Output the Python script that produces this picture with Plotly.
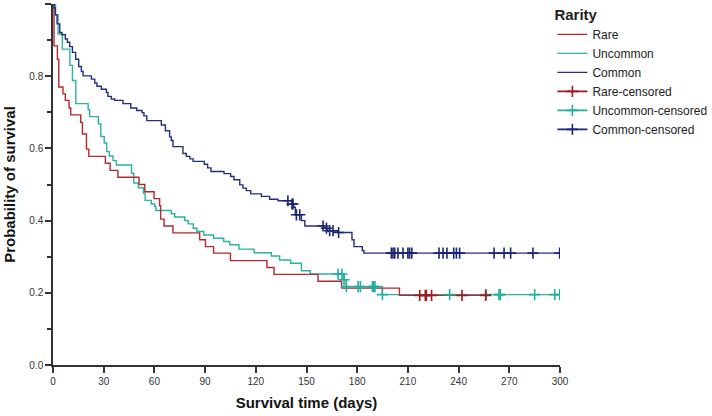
import plotly.graph_objects as go

# ---------------- data ----------------
rare_t = [0, 0.6, 2.6, 3.4, 5.9, 7.3, 9.5, 10.5, 16.4, 17.4, 19.8, 21.2, 31.0, 33.8, 38.4,
          50.9, 54.3, 59.8, 63.1, 63.7, 65.7, 71.0, 86.8, 90.2, 95.0, 105.0, 126.6, 130.8,
          156.8, 170.8, 205.0, 256.0]
rare_s = [1.0, 0.884, 0.847, 0.770, 0.751, 0.733, 0.712, 0.693, 0.672, 0.640, 0.598, 0.578, 0.559, 0.539, 0.520,
          0.500, 0.480, 0.461, 0.441, 0.404, 0.385, 0.366, 0.347, 0.328, 0.310, 0.289, 0.270, 0.251,
          0.232, 0.213, 0.193, 0.193]
rare_cens = [217.0, 220.3, 220.9, 224.0, 242.0, 256.0]

unc_t = [0, 1.5, 3.0, 5.5, 10.0, 11.5, 13.5, 20.8, 21.7, 26.8, 28.3, 30.3, 31.8, 33.3, 35.5, 37.5,
         46.5, 47.8, 50.5, 53.5, 54.5, 58.2, 60.2, 60.8, 70.0, 72.0, 78.0, 80.0, 83.0, 85.2, 89.2,
         95.0, 101.0, 104.6, 110.0, 119.0, 129.2, 134.1, 140.6, 147.0, 152.3, 172.2, 173.6, 194.9, 300.0]
unc_s = [1.0, 0.970, 0.917, 0.875, 0.830, 0.788, 0.724, 0.707, 0.688, 0.668, 0.633, 0.615, 0.591, 0.579, 0.566, 0.554,
         0.531, 0.504, 0.491, 0.476, 0.456, 0.446, 0.439, 0.428, 0.419, 0.410, 0.400, 0.391, 0.379, 0.370, 0.360,
         0.351, 0.342, 0.333, 0.321, 0.311, 0.302, 0.291, 0.282, 0.261, 0.252, 0.236, 0.217, 0.195, 0.195]
unc_cens = [168.7, 171.0, 172.2, 173.6, 180.5, 181.9, 189.0, 189.8, 190.5, 194.9, 234.7, 256.4,
            263.9, 264.7, 285.0, 296.9, 299.8]

com_t = [0, 0.6, 1.4, 2.4, 4.0, 5.3, 7.3, 8.5, 9.9, 11.5, 13.4, 15.2, 16.8, 17.8, 22.7, 24.7, 26.0,
         28.6, 31.6, 32.5, 34.5, 36.5, 41.4, 46.0, 49.6, 52.7, 53.8, 55.5, 64.1, 66.5, 69.0, 70.0, 71.0,
         76.9, 78.9, 81.0, 82.9, 89.5, 91.5, 93.5, 101.2, 105.1, 107.1, 110.5, 112.4, 114.4, 117.0,
         123.3, 128.2, 133.1, 141.4, 142.4, 143.4, 147.0, 149.0, 160.4, 162.5, 168.3, 176.9, 178.1,
         183.0, 184.0, 300.0]
com_s = [1.0, 0.989, 0.970, 0.945, 0.921, 0.915, 0.903, 0.894, 0.882, 0.866, 0.847, 0.827, 0.813, 0.801, 0.792, 0.781, 0.772,
         0.764, 0.755, 0.744, 0.737, 0.733, 0.724, 0.712, 0.705, 0.699, 0.690, 0.677, 0.665, 0.649, 0.632, 0.622, 0.605,
         0.586, 0.578, 0.571, 0.564, 0.556, 0.546, 0.536, 0.530, 0.522, 0.513, 0.499, 0.490, 0.483, 0.474,
         0.467, 0.459, 0.455, 0.446, 0.437, 0.416, 0.400, 0.385, 0.379, 0.372, 0.367, 0.347, 0.328,
         0.317, 0.310, 0.310]
com_cens = [139.0, 141.4, 142.0, 144.0, 146.0, 159.8, 161.8, 163.7, 165.7, 169.0,
            200.2, 201.2, 202.2, 204.1, 207.1, 210.0, 211.0, 212.3, 228.4, 230.8, 233.1,
            237.1, 238.7, 240.6, 261.0, 266.9, 270.8, 284.0, 299.8]

x_ticks = [0, 30, 60, 90, 120, 150, 180, 210, 240, 270, 300]
y_ticks = [0.0, 0.2, 0.4, 0.6, 0.8, 1.0]

# ---------------- styles ----------------
col_rare, col_unc, col_com = "#B3292E", "#2BB3A0", "#24307E"
col_rare_c, col_unc_c, col_com_c = "#9E1A1F", "#1FB09C", "#1B2574"


def surv_at(times, surv, t):
    v = surv[0]
    for ti, si in zip(times, surv):
        if ti <= t:
            v = si
        else:
            break
    return v


def cens_xy(cens, times, surv):
    xs, ys = [], []
    for c in cens:
        xs += [c, None]
        ys += [surv_at(times, surv, c), None]
    return xs, ys


fig = go.Figure()
curves = [("Uncommon", unc_t, unc_s, col_unc, 2),
          ("Rare", rare_t, rare_s, col_rare, 1),
          ("Common", com_t, com_s, col_com, 3)]
for name, t, s, c, rank in curves:
    fig.add_trace(go.Scatter(x=t, y=s, mode="lines", name=name,
                             line=dict(color=c, width=1.4, shape="hv"),
                             legendrank=rank))

cens = [("Uncommon-censored", unc_cens, unc_t, unc_s, col_unc_c, 5),
        ("Rare-censored", rare_cens, rare_t, rare_s, col_rare_c, 4),
        ("Common-censored", com_cens, com_t, com_s, col_com_c, 6)]
for name, cc, t, s, c, rank in cens:
    xs, ys = cens_xy(cc, t, s)
    fig.add_trace(go.Scatter(x=xs, y=ys, mode="lines+markers", name=name,
                             connectgaps=False,
                             line=dict(color=c, width=1.6),
                             marker=dict(symbol="cross-thin-open", size=8,
                                         line=dict(color=c, width=1.6)),
                             legendrank=rank))

font_family = "Liberation Sans, Arial, sans-serif"
fig.update_layout(
    width=712, height=416,
    margin=dict(l=53, r=152, t=4, b=51, autoexpand=False),
    paper_bgcolor="white", plot_bgcolor="white",
    font=dict(family=font_family, color="#333333", size=11),
    showlegend=True,
    legend=dict(x=0.985, y=1.01, xanchor="left", yanchor="top",
                title=dict(text="<b>Rarity</b>", font=dict(size=15, color="#222222")),
                font=dict(size=12, color="#222222"),
                tracegroupgap=0, itemwidth=30, bgcolor="rgba(0,0,0,0)"),
    xaxis=dict(range=[0, 300], tickvals=x_ticks, ticktext=[str(v) for v in x_ticks],
               ticks="outside", ticklen=6, tickwidth=1.5, tickcolor="#333333",
               showline=True, linecolor="#333333", linewidth=1.5,
               showgrid=False, zeroline=False,
               tickfont=dict(size=10, color="#333333"),
               title=dict(text="<b>Survival time (days)</b>", font=dict(size=15, color="#111111"),
                          standoff=12)),
    yaxis=dict(range=[0, 1], tickvals=y_ticks, ticktext=["%.1f" % v for v in y_ticks],
               ticks="outside", ticklen=6, tickwidth=1.5, tickcolor="#333333",
               minor=dict(ticks="outside", dtick=0.1, tick0=0, ticklen=4, tickwidth=1.5, tickcolor="#333333"),
               showline=True, linecolor="#333333", linewidth=1.5,
               showgrid=False, zeroline=False,
               tickfont=dict(size=10, color="#333333"),
               title=dict(text="<b>Probability of survival</b>", font=dict(size=15, color="#111111"),
                          standoff=10)),
)

fig.write_html("out.html")
